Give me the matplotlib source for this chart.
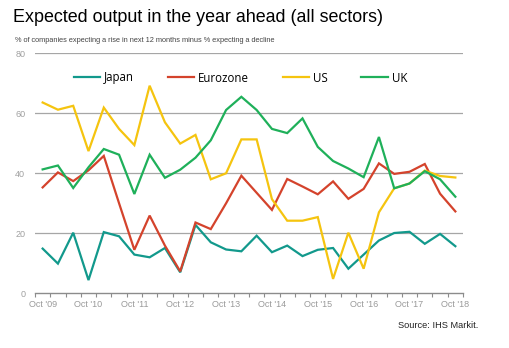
import numpy as np
import matplotlib
matplotlib.use("Agg")
import matplotlib.pyplot as plt

# Expected output in the year ahead, every 4 months Oct'09 .. Oct'18
japan = [14.9, 9.9, 20.2, 4.4, 20.4, 19.0, 12.9, 12.0, 15.1, 7.0,
         22.8, 17.0, 14.6, 14.0, 19.2, 13.7, 15.9, 12.4, 14.5, 15.1,
         8.2, 12.9, 17.6, 20.1, 20.5, 16.5, 19.8, 15.7]
eurozone = [35.3, 40.3, 37.4, 41.0, 45.8, 30.0, 14.5, 25.9, 15.9, 7.3,
            23.6, 21.4, 30.0, 39.2, 33.5, 27.8, 38.1, 35.6, 33.0, 37.3,
            31.5, 34.8, 43.3, 39.8, 40.5, 43.1, 33.2, 27.3]
us = [63.6, 61.2, 62.5, 47.4, 61.9, 54.8, 49.4, 69.2, 57.0, 49.9,
      52.8, 38.0, 40.0, 51.3, 51.3, 31.4, 24.2, 24.2, 25.4, 4.8,
      20.2, 8.2, 27.0, 35.0, 36.6, 40.9, 39.1, 38.6]
uk = [41.3, 42.6, 35.1, 42.0, 48.1, 46.2, 33.1, 46.2, 38.5, 41.2,
      45.2, 51.0, 61.1, 65.5, 61.1, 54.8, 53.4, 58.3, 48.8, 44.1,
      41.6, 38.7, 52.1, 35.0, 36.6, 40.7, 38.0, 32.2]

year_labels = ["Oct '09", "Oct '10", "Oct '11", "Oct '12", "Oct '13",
               "Oct '14", "Oct '15", "Oct '16", "Oct '17", "Oct '18"]
y_ticks = [0, 20, 40, 60, 80]

series = [("Japan", japan, "#12998c"),
          ("Eurozone", eurozone, "#d4432c"),
          ("US", us, "#f5c40f"),
          ("UK", uk, "#1fb05a")]

plt.rcParams['font.family'] = ['Liberation Sans', 'DejaVu Sans']

fig = plt.figure(figsize=(5.09, 3.48), dpi=100)
ax = fig.add_axes([35 / 509, 1 - 293.3 / 348, 428 / 509, 240 / 348])

x = np.arange(len(japan))
for name, vals, col in series:
    ax.plot(x, vals, color=col, lw=1.6, label=name, solid_joinstyle='miter')

ax.set_xlim(-0.5, len(japan) - 0.5)
ax.set_ylim(0, 80)

# gridlines
for v in y_ticks[1:]:
    ax.axhline(v, color="#a6a6a6", lw=0.9, zorder=0)

ax.set_yticks(y_ticks)
ax.set_yticklabels([str(v) for v in y_ticks], color="#a0a0a0", fontsize=6.5)
ax.tick_params(axis='y', length=0, pad=7)

ax.set_xticks(np.arange(0, len(japan), 3))
ax.set_xticklabels(year_labels, color="#9a9a9a", fontsize=6.5)
ax.set_xticks(np.arange(-0.5, len(japan), 1), minor=True)
ax.tick_params(axis='x', which='major', length=0, pad=5)
ax.tick_params(axis='x', which='minor', length=3, color="#8c8c8c", width=0.8,
               direction='out')

for s in ["top", "right", "left"]:
    ax.spines[s].set_visible(False)
ax.spines["bottom"].set_color("#8c8c8c")
ax.spines["bottom"].set_linewidth(1.0)

fig.legend(loc='center', bbox_to_anchor=(240.5 / 509, 1 - 78 / 348), ncol=4,
           frameon=False, handlelength=2.3, handletextpad=0.35,
           columnspacing=2.9, prop={'family': ['Open Sans', 'DejaVu Sans'], 'size': 8.3})

fig.text(13 / 509, 1 - 18 / 348, "Expected output in the year ahead (all sectors)",
         fontsize=12.9, color="#000000", va='center', ha='left')
fig.text(15 / 509, 1 - 40 / 348,
         "% of companies expecting a rise in next 12 months minus % expecting a decline",
         fontsize=5.35, color="#444444", va='center', ha='left')
fig.text(478 / 509, 1 - 326 / 348, "Source: IHS Markit.", fontsize=6.7,
         color="#222222", va='center', ha='right')

fig.savefig("out.png", dpi=100)
